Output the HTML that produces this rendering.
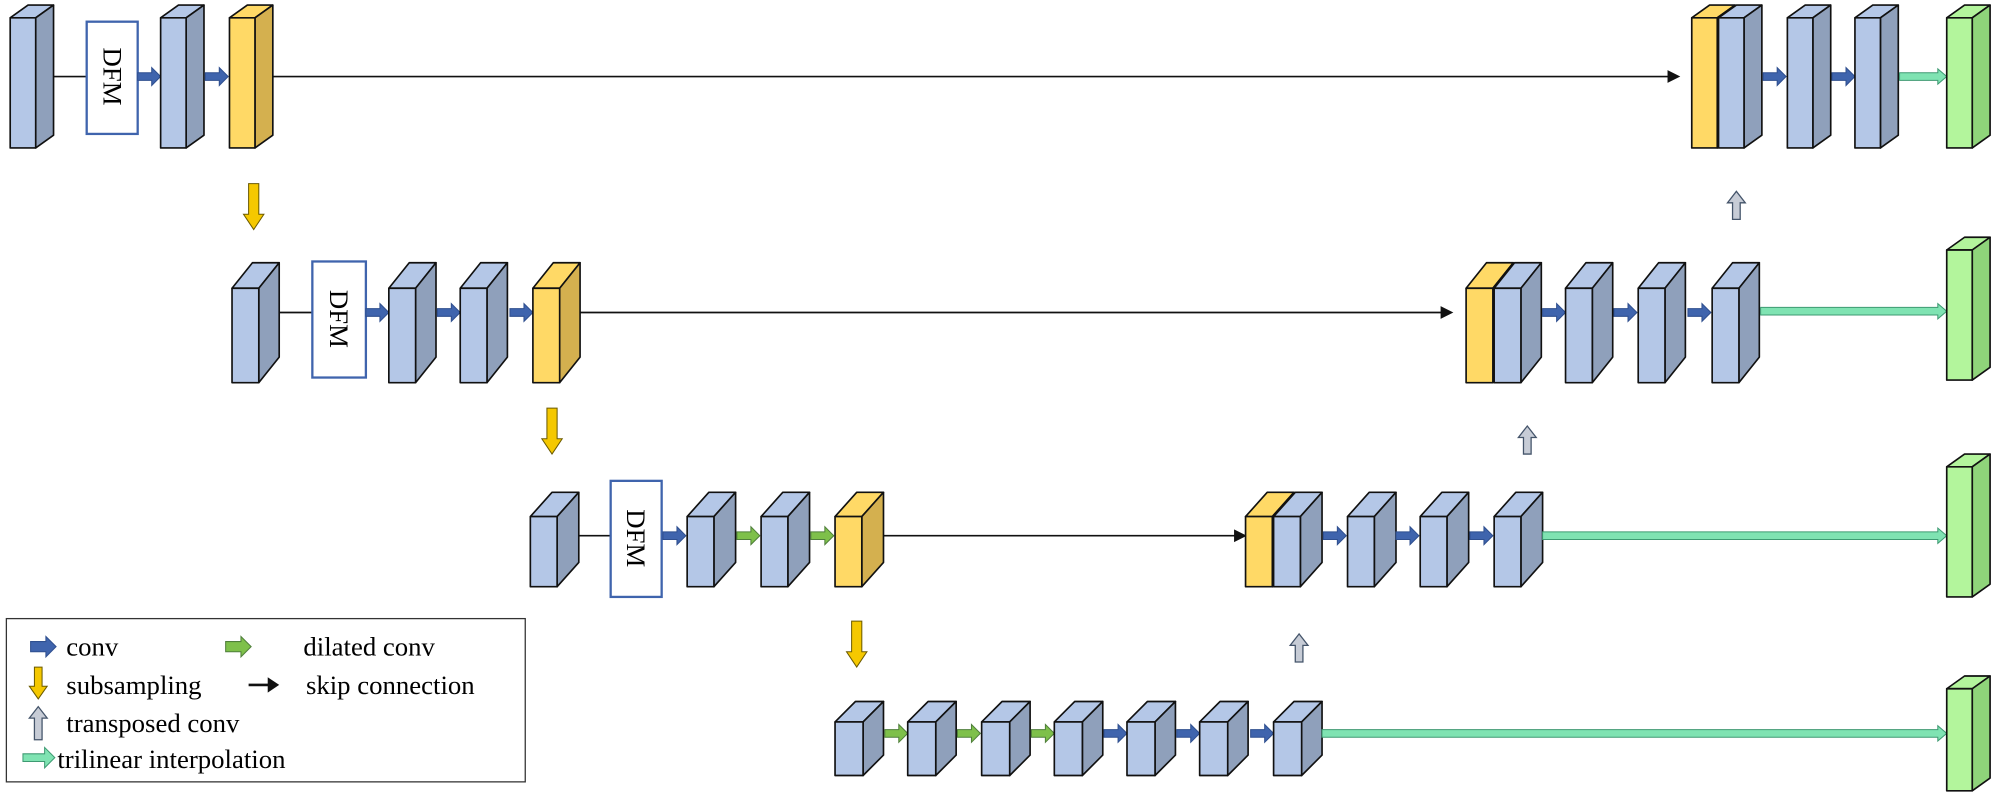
<!DOCTYPE html>
<html><head><meta charset="utf-8"><style>
html,body{margin:0;padding:0;background:#fff;}
svg{display:block;}
text{font-family:"Liberation Serif",serif;}
</style></head><body>
<svg width="1999" height="801" viewBox="0 0 1568 628" preserveAspectRatio="none" xmlns="http://www.w3.org/2000/svg">
<defs>
<!-- box templates: front at (0,0) -->
<g id="b1" stroke="#111" stroke-width="1.3" stroke-linejoin="round">
<polygon points="0,10 14,0 34,0 20,10" fill="#b4c7e7"/><polygon points="20,10 34,0 34,102 20,112" fill="#8fa0bb"/><rect x="0" y="10" width="20" height="102" fill="#b4c7e7"/></g>
<g id="y1" stroke="#111" stroke-width="1.3" stroke-linejoin="round">
<polygon points="0,10 14,0 34,0 20,10" fill="#ffd966"/><polygon points="20,10 34,0 34,102 20,112" fill="#d4b04f"/><rect x="0" y="10" width="20" height="102" fill="#ffd966"/></g>
<g id="g1" stroke="#111" stroke-width="1.3" stroke-linejoin="round">
<polygon points="0,10 14,0 34,0 20,10" fill="#b3f59c"/><polygon points="20,10 34,0 34,102 20,112" fill="#8fd47a"/><rect x="0" y="10" width="20" height="102" fill="#b3f59c"/></g>
<g id="b2" stroke="#111" stroke-width="1.3" stroke-linejoin="round">
<polygon points="0,20 16,0 37,0 21,20" fill="#b4c7e7"/><polygon points="21,20 37,0 37,74 21,94" fill="#8fa0bb"/><rect x="0" y="20" width="21" height="74" fill="#b4c7e7"/></g>
<g id="y2" stroke="#111" stroke-width="1.3" stroke-linejoin="round">
<polygon points="0,20 16,0 37,0 21,20" fill="#ffd966"/><polygon points="21,20 37,0 37,74 21,94" fill="#d4b04f"/><rect x="0" y="20" width="21" height="74" fill="#ffd966"/></g>
<g id="b3" stroke="#111" stroke-width="1.3" stroke-linejoin="round">
<polygon points="0,19 17,0 38,0 21,19" fill="#b4c7e7"/><polygon points="21,19 38,0 38,55 21,74" fill="#8fa0bb"/><rect x="0" y="19" width="21" height="55" fill="#b4c7e7"/></g>
<g id="y3" stroke="#111" stroke-width="1.3" stroke-linejoin="round">
<polygon points="0,19 17,0 38,0 21,19" fill="#ffd966"/><polygon points="21,19 38,0 38,55 21,74" fill="#d4b04f"/><rect x="0" y="19" width="21" height="55" fill="#ffd966"/></g>
<g id="b4" stroke="#111" stroke-width="1.3" stroke-linejoin="round">
<polygon points="0,16 16,0 38,0 22,16" fill="#b4c7e7"/><polygon points="22,16 38,0 38,42 22,58" fill="#8fa0bb"/><rect x="0" y="16" width="22" height="42" fill="#b4c7e7"/></g>
<g id="g4" stroke="#111" stroke-width="1.3" stroke-linejoin="round">
<polygon points="0,10 14,0 34,0 20,10" fill="#b3f59c"/><polygon points="20,10 34,0 34,80 20,90" fill="#8fd47a"/><rect x="0" y="10" width="20" height="80" fill="#b3f59c"/></g>
<polygon id="ca" points="0,-3 11,-3 11,-7 18,0 11,7 11,3 0,3" fill="#3f64ad" stroke="#2f4f8f" stroke-width="0.8"/>
<polygon id="da" points="0,-3 11,-3 11,-7 18,0 11,7 11,3 0,3" fill="#7ec04a" stroke="#4f7f3a" stroke-width="0.8"/>
<polygon id="sa" points="-4,0 4,0 4,24 8,24 0,36 -8,24 -4,24" fill="#f5c800" stroke="#6b5a00" stroke-width="0.8"/>
<polygon id="ua" points="-3,22 3,22 3,9 7,9 0,0 -7,9 -3,9" fill="#c7ccd6" stroke="#44546a" stroke-width="1"/>
</defs>

<!-- Row 1 -->
<use href="#b1" x="8" y="4"/>
<line x1="42" y1="60" x2="68" y2="60" stroke="#111" stroke-width="1.3"/>
<rect x="68" y="17" width="40" height="88" fill="#fff" stroke="#3f64ad" stroke-width="1.8"/>
<text x="0" y="0" font-size="21" text-anchor="middle" transform="translate(81,60) rotate(90)">DFM</text>
<use href="#ca" x="108" y="60"/>
<use href="#b1" x="126" y="4"/>
<use href="#ca" x="161" y="60"/>
<use href="#y1" x="180" y="4"/>
<line x1="214" y1="60" x2="1310" y2="60" stroke="#111" stroke-width="1.3"/>
<polygon points="1308,55 1318,60 1308,65" fill="#111"/>
<use href="#y1" x="1327" y="4"/>
<use href="#b1" x="1348" y="4"/>
<use href="#ca" x="1383" y="60"/>
<use href="#b1" x="1402" y="4"/>
<use href="#ca" x="1437" y="60"/>
<use href="#b1" x="1455" y="4"/>
<polygon points="1490,57 1520,57 1520,54 1527,60 1520,66 1520,63 1490,63" fill="#7fe3b2" stroke="#3e9a72" stroke-width="0.8"/>
<use href="#g1" x="1527" y="4"/>

<use href="#sa" x="199" y="144"/>
<use href="#ua" x="1362" y="150"/>

<!-- Row 2 -->
<use href="#b2" x="182" y="206"/>
<line x1="219" y1="245" x2="245" y2="245" stroke="#111" stroke-width="1.3"/>
<rect x="245" y="205" width="42" height="91" fill="#fff" stroke="#3f64ad" stroke-width="1.8"/>
<text x="0" y="0" font-size="21" text-anchor="middle" transform="translate(259,250) rotate(90)">DFM</text>
<use href="#ca" x="287" y="245"/>
<use href="#b2" x="305" y="206"/>
<use href="#ca" x="343" y="245"/>
<use href="#b2" x="361" y="206"/>
<use href="#ca" x="400" y="245"/>
<use href="#y2" x="418" y="206"/>
<line x1="455" y1="245" x2="1132" y2="245" stroke="#111" stroke-width="1.3"/>
<polygon points="1130,240 1140,245 1130,250" fill="#111"/>
<use href="#y2" x="1150" y="206"/>
<use href="#b2" x="1172" y="206"/>
<use href="#ca" x="1210" y="245"/>
<use href="#b2" x="1228" y="206"/>
<use href="#ca" x="1266" y="245"/>
<use href="#b2" x="1285" y="206"/>
<use href="#ca" x="1324" y="245"/>
<use href="#b2" x="1343" y="206"/>
<polygon points="1381,241 1520,241 1520,238 1527,244 1520,250 1520,247 1381,247" fill="#7fe3b2" stroke="#3e9a72" stroke-width="0.8"/>
<use href="#g1" x="1527" y="186"/>

<use href="#sa" x="433" y="320"/>
<use href="#ua" x="1198" y="334"/>

<!-- Row 3 -->
<use href="#b3" x="416" y="386"/>
<line x1="454" y1="420" x2="479" y2="420" stroke="#111" stroke-width="1.3"/>
<rect x="479" y="377" width="40" height="91" fill="#fff" stroke="#3f64ad" stroke-width="1.8"/>
<text x="0" y="0" font-size="21" text-anchor="middle" transform="translate(492,422) rotate(90)">DFM</text>
<use href="#ca" x="520" y="420"/>
<use href="#b3" x="539" y="386"/>
<use href="#da" x="578" y="420"/>
<use href="#b3" x="597" y="386"/>
<use href="#da" x="636" y="420"/>
<use href="#y3" x="655" y="386"/>
<line x1="693" y1="420" x2="970" y2="420" stroke="#111" stroke-width="1.3"/>
<polygon points="968,415 978,420 968,425" fill="#111"/>
<use href="#y3" x="977" y="386"/>
<use href="#b3" x="999" y="386"/>
<use href="#ca" x="1038" y="420"/>
<use href="#b3" x="1057" y="386"/>
<use href="#ca" x="1095" y="420"/>
<use href="#b3" x="1114" y="386"/>
<use href="#ca" x="1153" y="420"/>
<use href="#b3" x="1172" y="386"/>
<polygon points="1210,417 1520,417 1520,414 1527,420 1520,426 1520,423 1210,423" fill="#7fe3b2" stroke="#3e9a72" stroke-width="0.8"/>
<use href="#g1" x="1527" y="356"/>

<use href="#sa" x="672" y="487"/>
<use href="#ua" x="1019" y="497"/>

<!-- Row 4 -->
<use href="#b4" x="655" y="550"/>
<use href="#da" x="694" y="575"/>
<use href="#b4" x="712" y="550"/>
<use href="#da" x="751" y="575"/>
<use href="#b4" x="770" y="550"/>
<use href="#da" x="809" y="575"/>
<use href="#b4" x="827" y="550"/>
<use href="#ca" x="866" y="575"/>
<use href="#b4" x="884" y="550"/>
<use href="#ca" x="923" y="575"/>
<use href="#b4" x="941" y="550"/>
<use href="#ca" x="981" y="575"/>
<use href="#b4" x="999" y="550"/>
<polygon points="1037,572 1520,572 1520,569 1527,575 1520,581 1520,578 1037,578" fill="#7fe3b2" stroke="#3e9a72" stroke-width="0.8"/>
<use href="#g4" x="1527" y="530"/>

<!-- Legend -->
<rect x="5" y="485" width="407" height="128" fill="#fff" stroke="#333" stroke-width="1"/>
<g transform="translate(0,0)">
<polygon points="24,503 36,503 36,499 44,507 36,515 36,511 24,511" fill="#3f64ad" stroke="#2f4f8f" stroke-width="0.8"/>
<text x="52" y="514" font-size="21">conv</text>
<polygon points="177,503 189,503 189,499 197,507 189,515 189,511 177,511" fill="#7ec04a" stroke="#4f7f3a" stroke-width="0.8"/>
<text x="238" y="514" font-size="21">dilated conv</text>
<polygon points="27,523 33,523 33,538 37,538 30,548 23,538 27,538" fill="#f5c800" stroke="#6b5a00" stroke-width="0.8"/>
<text x="52" y="544" font-size="21">subsampling</text>
<line x1="195" y1="537" x2="212" y2="537" stroke="#111" stroke-width="2"/>
<polygon points="210,531 219,537 210,543" fill="#111"/>
<text x="240" y="544" font-size="21">skip connection</text>
<polygon points="27,580 33,580 33,563 37,563 30,554 23,563 27,563" fill="#c7ccd6" stroke="#44546a" stroke-width="1"/>
<text x="52" y="574" font-size="21">transposed conv</text>
<polygon points="18,591 35,591 35,586 43,594 35,602 35,597 18,597" fill="#7fe3b2" stroke="#3e9a72" stroke-width="0.8"/>
<text x="45" y="602" font-size="21">trilinear interpolation</text>
</g>
</svg>
</body></html>
